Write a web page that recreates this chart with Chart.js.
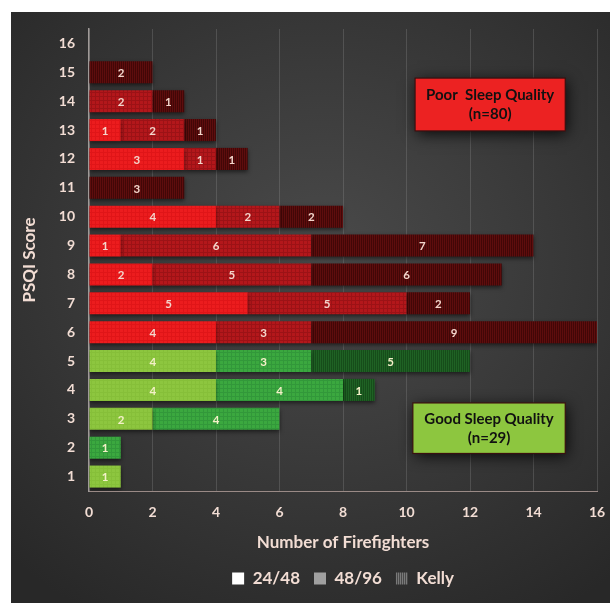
<!DOCTYPE html>
<html><head><meta charset="utf-8">
<script src="https://cdn.jsdelivr.net/npm/chart.js@4"></script>
<style>
html,body{margin:0;padding:0;background:#fff;}
#wrap{position:absolute;left:11px;top:12px;width:599px;height:591px;
background:radial-gradient(ellipse 75% 70% at 52% 42%, #4a4a4a 0%, #3b3b3b 45%, #282828 100%);}
canvas{display:block}
</style></head><body>
<div id="wrap"><canvas id="c" width="599" height="591"></canvas></div>
<script>
const scores = ['1','2','3','4','5','6','7','8','9','10','11','12','13','14','15','16'];
const shift2448 = [1,0,2,4,4,4,5,2,1,4,0,3,1,0,0,0];
const shift4896 = [0,1,4,4,3,3,5,5,6,2,0,1,2,2,0,0];
const shiftKelly = [0,0,0,1,5,9,2,6,7,2,3,1,1,1,2,0];
const seriesNames = ['24/48','48/96','Kelly'];
const xTicks = [0,2,4,6,8,10,12,14,16];
const goodMax = 5;
const boxes = [
  {lines:['Poor  Sleep Quality','(n=80)'], x0:10.27, x1:15.0, s0:14.8, s1:12.97, fill:'#ec2222'},
  {lines:['Good Sleep Quality','(n=29)'], x0:10.2, x1:15.0, s0:3.55, s1:1.8, fill:'#8dc63f'}
];

function pattern(base, line, type){
  const c = document.createElement('canvas');
  c.width = 4; c.height = 4;
  const g = c.getContext('2d');
  g.fillStyle = base; g.fillRect(0,0,4,4);
  g.fillStyle = line;
  if (type === 'stripe'){ g.fillRect(0,0,1,4); g.fillRect(2,0,1,4); }
  else if (type === 'grid'){ g.fillRect(0,0,4,1); g.fillRect(0,0,1,4); }
  return g.createPattern(c,'repeat');
}
const P = {
  red: [pattern('#ec1c1e','#e01518','grid'), pattern('#b3171b','#9c1216','grid'), pattern('#5e0d0d','#420707','stripe')],
  green: [pattern('#8dc63f','#86bf39','grid'), pattern('#3ba83f','#32983a','grid'), pattern('#1f6224','#164d1a','stripe')]
};
function colorsFor(i){ return scores.map(s => (+s <= goodMax ? P.green[i] : P.red[i])); }

const legendFills = ['#ffffff', '#a0a0a0', pattern('#7a7a7a','#4a4a4a','stripe')];

const txt = '#f2ddd4';
const FONT = 'Lato, "Open Sans", sans-serif';

const labelPlugin = {
  id:'barLabels',
  beforeDatasetsDraw(chart){ const c=chart.ctx; c.save(); c.shadowColor='rgba(0,0,0,0.55)'; c.shadowBlur=4; c.shadowOffsetY=2; },
  afterDatasetsDraw(chart){
    const c = chart.ctx; c.restore();
    c.save();
    c.font = 'bold 11.5px ' + FONT;
    c.textAlign='center'; c.textBaseline='middle';
    chart.data.datasets.forEach((ds, di) => {
      chart.getDatasetMeta(di).data.forEach((el, i) => {
        const v = ds.data[i];
        if (!v) return;
        c.fillStyle = (+scores[i] <= goodMax) ? '#f4f0c8' : '#f4d6cc';
        c.fillText(String(v), (el.x + el.base)/2, el.y + 1);
      });
    });
    c.restore();
  },
  afterDraw(chart){
    const c = chart.ctx, xs = chart.scales.x, ys = chart.scales.y;
    boxes.forEach(b => {
      const l = xs.getPixelForValue(b.x0), r = xs.getPixelForValue(b.x1);
      const t = ys.getPixelForValue(b.s0-1), bt = ys.getPixelForValue(b.s1-1);
      c.save();
      c.shadowColor='rgba(0,0,0,0.85)'; c.shadowBlur=14; c.shadowOffsetX=2; c.shadowOffsetY=3;
      c.fillStyle=b.fill; c.fillRect(l,t,r-l,bt-t);
      c.restore();
      c.save();
      c.strokeStyle='#3a1010'; c.lineWidth=1.2; c.strokeRect(l,t,r-l,bt-t);
      c.fillStyle='#111'; c.font='bold 15px ' + FONT; c.textAlign='center'; c.textBaseline='middle';
      const cx=(l+r)/2, cy=(t+bt)/2;
      c.fillText(b.lines[0], cx, cy-9);
      c.fillText(b.lines[1], cx, cy+10);
      c.restore();
    });
  }
};

const datasets = seriesNames.map((n,i) => ({
  label:n,
  data:[shift2448,shift4896,shiftKelly][i],
  backgroundColor: colorsFor(i),
  borderWidth:0,
  barPercentage:0.92,
  categoryPercentage:0.83
}));

new Chart(document.getElementById('c'), {
  type:'bar',
  data:{labels:scores, datasets},
  plugins:[labelPlugin],
  options:{
    indexAxis:'y',
    responsive:false,
    animation:false,
    layout:{padding:{left:0,right:13,top:17,bottom:6}},
    plugins:{
      tooltip:{enabled:false},
      legend:{
        position:'bottom',
        fullSize:false,
        labels:{
          color:txt, font:{family:FONT, size:17, weight:'bold'}, boxWidth:12, boxHeight:12, padding:14,
          generateLabels(){ return seriesNames.map((n,i)=>({text:n, fillStyle:legendFills[i], strokeStyle:'rgba(0,0,0,0)', lineWidth:0, hidden:false, datasetIndex:i, fontColor:txt})); }
        }
      }
    },
    scales:{
      x:{
        stacked:true, min:0, max:16,
        afterBuildTicks(s){ s.ticks = xTicks.map(v=>({value:v})); },
        afterFit(s){ s.height = 65; s.paddingLeft = 0; s.paddingRight = 0; },
        ticks:{color:txt, font:{family:FONT, size:14, weight:'bold'}, padding:13},
        grid:{color:'rgba(150,150,150,0.28)', drawTicks:false},
        border:{color:'#9a8a86', width:1},
        title:{display:true, text:'Number of Firefighters', color:txt, font:{family:FONT, size:17, weight:'bold'}, padding:{top:3,bottom:3}}
      },
      y:{
        stacked:true, reverse:true,
        afterFit(s){ s.width = 78; s.paddingTop = 0; s.paddingBottom = 0; },
        ticks:{color:txt, font:{family:FONT, size:14, weight:'bold'}, padding:14},
        grid:{drawOnChartArea:false, drawTicks:false},
        border:{color:'#a09a98', width:1.5},
        title:{display:true, text:'PSQI Score', color:txt, font:{family:FONT, size:17, weight:'bold'}, padding:{top:8,bottom:0}}
      }
    }
  }
});
</script>
</body></html>
